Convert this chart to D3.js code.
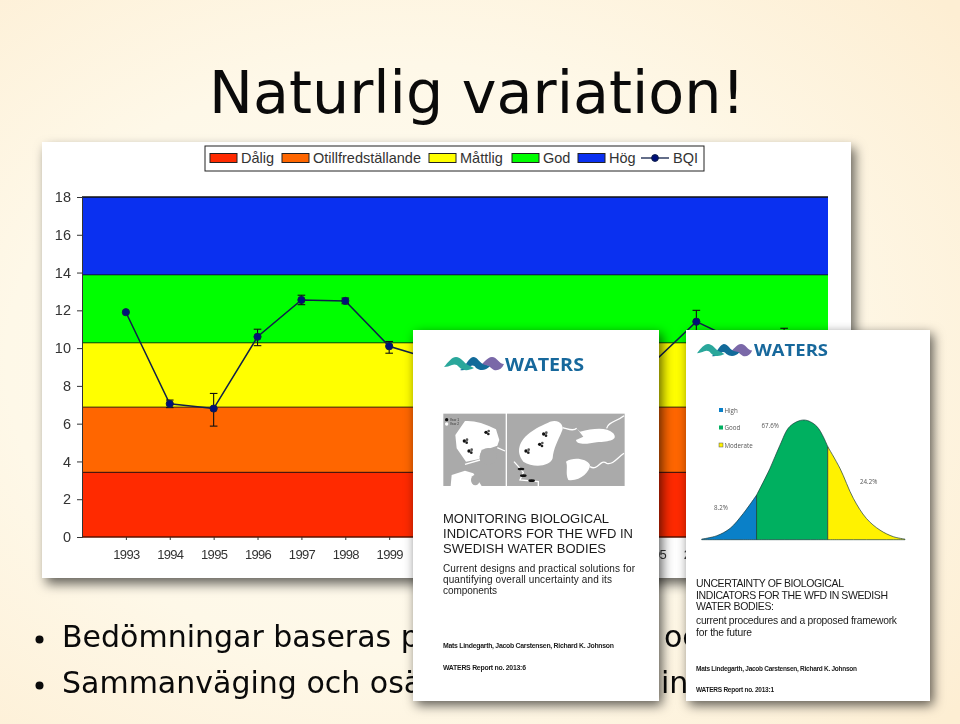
<!DOCTYPE html>
<html><head><meta charset="utf-8">
<script src="https://cdn.jsdelivr.net/npm/d3@7"></script>
<style>html,body{margin:0;padding:0;background:#fdf6e6}svg{display:block;filter:blur(0.35px)}</style>
</head><body><div id="c"></div>
<script>
// ---- chart data ----
const years=[1993,1994,1995,1996,1997,1998,1999,2000,2001,2002,2003,2004,2005,2006,2007,2008];
const bqi=[11.9,7.05,6.8,10.6,12.55,12.5,10.1,9.4,9.2,9.3,9.0,9.1,9.2,11.4,10.3,10.6];
const bqiLow=[11.9,6.85,5.87,10.13,12.3,12.35,9.73,9.2,9.0,9.1,8.8,8.9,9.0,10.9,10.0,10.2];
const bqiHigh=[11.9,7.25,7.6,11.0,12.8,12.65,10.35,9.6,9.4,9.5,9.2,9.3,9.4,12.0,10.6,11.05];
const bandNames=["Dålig","Otillfredställande","Måttlig","God","Hög"];
const bandTops=[3.45,6.9,10.3,13.9,18];
const bandColors=["#ff2a00","#ff6600","#ffff00","#00ff00","#0a30f0"];
const yTicks=[0,2,4,6,8,10,12,14,16,18];
const xTicks=years.concat([2009]);
// ---- cover curve data (share along the curve, relative height) ----
const curveX=[0,7.4,14,20.5,27,33.6,38.5,43.4,50.3,56.6,62,68,74.6,81,87.7,94.3,100];
const curveY=[0.5,3.3,9.5,22,37.3,59.6,79,94.7,100,94.7,77.7,59.6,34.5,17.8,8,2.5,0.5];
const classNames=["High","Good","Moderate"];
const classColors=["#0a80c8","#00b060","#fff200"];
const classSlices=[[0,5],[4,11],[10,17]];
const classShares=["8.2%","67.6%","24.2%"];

const W=960,H=724;
const svg=d3.select("#c").append("svg").attr("width",W).attr("height",H);
const defs=svg.append("defs");
const rg=defs.append("radialGradient").attr("id","bg").attr("cx","42%").attr("cy","50%").attr("r","75%");
rg.append("stop").attr("offset","0%").attr("stop-color","#fefbf0");
rg.append("stop").attr("offset","55%").attr("stop-color","#fef8e8");
rg.append("stop").attr("offset","100%").attr("stop-color","#fdeed3");
const shadow=(id,dx,dy,s,o)=>defs.append("filter").attr("id",id).attr("x","-10%").attr("y","-10%").attr("width","125%").attr("height","125%")
  .append("feDropShadow").attr("dx",dx).attr("dy",dy).attr("stdDeviation",s).attr("flood-color","#000").attr("flood-opacity",o);
shadow("sh",4,6,6,0.6);
shadow("sh2",3,4,6,0.65);
svg.append("rect").attr("width",W).attr("height",H).attr("fill","url(#bg)");

const sans="'Liberation Sans',Arial,sans-serif", ver="'DejaVu Sans',Verdana,sans-serif";

// title
svg.append("text").attr("x",209).attr("y",113).attr("font-family",ver).attr("font-size",59).attr("fill","#0a0a0a").attr("textLength",536).attr("lengthAdjust","spacingAndGlyphs").text("Naturlig variation!");

// bullets
const bullets=[{y:647,a:"Bedömningar baseras på",bx:"och",bxx:664},{y:693,a:"Sammanväging och osäkerhet",bx:"in",bxx:661}];
bullets.forEach(b=>{
  svg.append("circle").attr("cx",39.5).attr("cy",b.y-7.5).attr("r",4).attr("fill","#0a0a0a");
  const t=svg.append("text").attr("x",62).attr("y",b.y).attr("font-family",ver).attr("font-size",30).attr("fill","#0a0a0a");
  t.append("tspan").text(b.a);
  t.append("tspan").attr("x",b.bxx).text(b.bx);
});

// chart card
svg.append("rect").attr("x",42).attr("y",142).attr("width",809).attr("height",436).attr("fill","#fff").attr("filter","url(#sh)");

const x=d3.scaleLinear().domain([1992,2009]).range([82,828]);
const y=d3.scaleLinear().domain([0,18]).range([537,197]);
const chart=svg.append("g");
bandTops.forEach((t,i)=>{
  const b=i?bandTops[i-1]:0;
  chart.append("rect").attr("x",x(1992)).attr("width",x(2009)-x(1992)).attr("y",y(t)).attr("height",y(b)-y(t)).attr("fill",bandColors[i]);
  chart.append("line").attr("x1",x(1992)).attr("x2",x(2009)).attr("y1",y(t)).attr("y2",y(t)).attr("stroke","#111").attr("stroke-width",1.7);
});
chart.append("line").attr("x1",x(1992)).attr("x2",x(2009)).attr("y1",y(0)).attr("y2",y(0)).attr("stroke","#5a1200").attr("stroke-width",1.4);

const ya=chart.append("g").attr("transform",`translate(${x(1992)},0)`).call(d3.axisLeft(y).tickValues(yTicks).tickSize(5).tickPadding(6).tickFormat(d3.format("d")));
ya.selectAll("text").attr("font-family",sans).attr("font-size",14.5).attr("fill","#333");
ya.selectAll("line,path").attr("stroke","#333");
const xa=chart.append("g").attr("transform",`translate(0,${y(0)})`).call(d3.axisBottom(x).tickValues(xTicks).tickSize(3).tickPadding(10).tickFormat(d=>d===2009?"":d3.format("d")(d)));
xa.selectAll("text").attr("font-family",sans).attr("font-size",13).attr("letter-spacing","-0.7").attr("fill","#333");
xa.selectAll("line").attr("stroke","#333");
xa.select("path").remove();

// BQI series
const line=d3.line().x((d,i)=>x(years[i])).y(d=>y(d));
chart.append("path").attr("d",line(bqi)).attr("fill","none").attr("stroke","#10204a").attr("stroke-width",1.5);
years.forEach((yr,i)=>{
  if(bqiHigh[i]===bqiLow[i])return;
  const e=chart.append("g").attr("stroke","#111").attr("stroke-width",1.1);
  e.append("line").attr("x1",x(yr)).attr("x2",x(yr)).attr("y1",y(bqiLow[i])).attr("y2",y(bqiHigh[i]));
  [bqiLow[i],bqiHigh[i]].forEach(v=>e.append("line").attr("x1",x(yr)-3.8).attr("x2",x(yr)+3.8).attr("y1",y(v)).attr("y2",y(v)));
});
chart.selectAll("circle.p").data(bqi).join("circle").attr("class","p").attr("cx",(d,i)=>x(years[i])).attr("cy",d=>y(d)).attr("r",3.6).attr("fill","#00107a").attr("stroke","#10204a").attr("stroke-width",1);

// legend
const leg=svg.append("g");
leg.append("rect").attr("x",205).attr("y",146).attr("width",499).attr("height",25).attr("fill","#fff").attr("stroke","#222").attr("stroke-width",1);
const swatchX=d3.scaleOrdinal().domain(bandNames).range([210,282,429,512,578]);
bandNames.forEach((n,i)=>{
  leg.append("rect").attr("x",swatchX(n)).attr("y",153.5).attr("width",27).attr("height",9).attr("fill",bandColors[i]).attr("stroke","#222").attr("stroke-width",1);
  leg.append("text").attr("x",swatchX(n)+31).attr("y",163).attr("font-family",sans).attr("font-size",14.5).attr("fill","#333").text(n);
});
leg.append("line").attr("x1",641).attr("x2",669).attr("y1",158).attr("y2",158).attr("stroke","#10204a").attr("stroke-width",1.3);
leg.append("circle").attr("cx",655).attr("cy",158).attr("r",3.4).attr("fill","#00107a").attr("stroke","#10204a");
leg.append("text").attr("x",673).attr("y",163).attr("font-family",sans).attr("font-size",14.5).attr("fill","#333").text("BQI");

// WATERS logo
function logo(g,tx,ty,s,txt){
  const l=g.append("g").attr("transform",`translate(${tx},${ty}) scale(${s})`);
  l.append("path").attr("d","M34,11 C39,7 43,0 48,0 C53,0 55,7 60,7 C58,12 54,14 50,13 C46,11 45,8 43,9 C41,10 38,12 34,11Z").attr("fill","#7a68a8");
  l.append("path").attr("d","M16,13 C21,11 24,1 29,0 C34,0 36,7 41,8 L46,9 C42,14 36,14 32,11 C30,8 28,8 26,10 C23,12 20,14 16,13Z").attr("fill","#126a9a");
  l.append("path").attr("d","M0,10 C4,5 8,0 12,0 C17,0 20,6 24,8 L30,11 C24,14 19,14 15,10 C13,7 10,7 8,8 C5,9 3,10 0,10Z").attr("fill","#2aa79b");
  g.append("text").attr("x",txt[0]).attr("y",txt[1]).attr("font-family","'Open Sans',sans-serif").attr("font-weight",700).attr("font-size",txt[2]).attr("fill","#17689c").attr("textLength",txt[3]).attr("lengthAdjust","spacingAndGlyphs").text("WATERS");
}
function textLines(g,lines,fx,fam){
  lines.forEach(l=>g.append("text").attr("x",fx).attr("y",l[1]).attr("font-family",fam).attr("font-size",l[2]).attr("font-weight",l[3]||400).attr("fill","#1a1a1a").attr("textLength",l[4]).attr("lengthAdjust","spacing").text(l[0]));
}

// cover 1
const c1=svg.append("g");
c1.append("rect").attr("x",413).attr("y",330).attr("width",246).attr("height",371).attr("fill","#fff").attr("filter","url(#sh2)");
logo(c1,444,357,1,[505,370.5,17,79]);
const m=c1.append("g").attr("transform","translate(410,325) scale(0.3333)");
m.append("rect").attr("x",100).attr("y",266).attr("width",187).attr("height",217).attr("fill","#aaaaaa");
m.append("rect").attr("x",291).attr("y",266).attr("width",353).attr("height",217).attr("fill","#aaaaaa");
const white=["M136,330 L165,288 Q205,285 258,313 L268,345 L262,362 L240,370 L215,374 L208,402 L168,410 L140,370 Z",
"M122,483 L125,450 L165,437 L190,445 L215,483 Z",
"M330,360 C345,320 400,300 420,290 C450,280 465,305 455,320 C445,345 430,370 428,400 C420,425 370,430 340,410 C325,390 325,375 330,360Z",
"M500,310 L510,320 C550,310 590,305 610,325 C625,345 600,350 560,352 C530,358 500,360 498,345 L520,335 Z",
"M468,410 C490,395 530,400 540,420 C540,440 510,470 475,465 C465,445 475,425 468,410Z"];
white.forEach(d=>m.append("path").attr("d",d).attr("fill","#fff"));
["M458,308 C475,312 490,320 500,310","M590,310 C595,290 620,290 642,272","M540,425 C565,440 570,400 590,415 C610,420 620,400 642,385","M312,410 L330,430 L340,442 L330,465 L385,470 L385,483","M262,368 L285,378","M165,418 L210,405"].forEach(d=>m.append("path").attr("d",d).attr("fill","none").attr("stroke","#fff").attr("stroke-width",4));
m.append("ellipse").attr("cx",235).attr("cy",394).attr("rx",26).attr("ry",25).attr("fill","#aaaaaa");
m.append("ellipse").attr("cx",196).attr("cy",465).attr("rx",13).attr("ry",16).attr("fill","#aaaaaa");
[[167,348],[232,322],[181,378],[405,327],[393,358],[352,378]].forEach(p=>{
  m.append("circle").attr("cx",p[0]-4).attr("cy",p[1]).attr("r",5).attr("fill","#111");
  m.append("circle").attr("cx",p[0]+4).attr("cy",p[1]-4).attr("r",4).attr("fill","#555");
  m.append("circle").attr("cx",p[0]+3).attr("cy",p[1]+5).attr("r",4).attr("fill","#222");
});
[[333,432],[340,452],[365,467]].forEach(p=>m.append("ellipse").attr("cx",p[0]).attr("cy",p[1]).attr("rx",10).attr("ry",4).attr("fill","#111"));
m.append("circle").attr("cx",110).attr("cy",284).attr("r",5).attr("fill","#111");
m.append("circle").attr("cx",110).attr("cy",297).attr("r",5).attr("fill","#fff");
m.append("text").attr("x",119).attr("y",288).attr("font-family",sans).attr("font-size",10).attr("fill","#333").text("Year 1");
m.append("text").attr("x",119).attr("y",301).attr("font-family",sans).attr("font-size",10).attr("fill","#333").text("Year 2");
textLines(c1,[
 ["MONITORING BIOLOGICAL",523,13,400,166],
 ["INDICATORS FOR THE WFD IN",538,13,400,190],
 ["SWEDISH WATER BODIES",553,13,400,163],
 ["Current designs and practical solutions for",572,10,400,192],
 ["quantifying overall uncertainty and its",583,10,400,169],
 ["components",593.5,10,400,54],
 ["Mats Lindegarth, Jacob Carstensen, Richard K. Johnson",648,6.9,700,171],
 ["WATERS Report no. 2013:6",670,6.9,700,83]
],443,sans);

// cover 2
const c2=svg.append("g");
c2.append("rect").attr("x",686).attr("y",330).attr("width",244).attr("height",371).attr("fill","#fff").attr("filter","url(#sh2)");
logo(c2,697,344,0.92,[754,356,16.5,74]);
const cx=d3.scaleLinear().domain([0,100]).range([701.7,905]);
const cy=d3.scaleLinear().domain([0,100]).range([539.7,420]);
const area=d3.area().curve(d3.curveCatmullRom).x(d=>cx(d[0])).y0(cy(0)).y1(d=>cy(d[1]));
const pts=curveX.map((v,i)=>[v,curveY[i]]);
classSlices.forEach((s,i)=>{
  c2.append("path").attr("d",area(pts.slice(s[0],s[1]))).attr("fill",classColors[i]).attr("stroke","#1d3d3d").attr("stroke-width",0.7);
});
const ly=d3.scalePoint().domain(classNames).range([410,445]);
classNames.forEach((n,i)=>{
  c2.append("rect").attr("x",719).attr("y",ly(n)-2).attr("width",4).attr("height",4).attr("fill",classColors[i]).attr("stroke",i==2?"#555":"none").attr("stroke-width",0.5);
  c2.append("text").attr("x",724.5).attr("y",ly(n)+2.5).attr("font-family","'Open Sans',sans-serif").attr("font-size",6.2).attr("fill","#555").text(n);
});
[[714,510,0],[761.5,427.5,1],[860,484,2]].forEach(p=>c2.append("text").attr("x",p[0]).attr("y",p[1]).attr("font-family","'Open Sans',sans-serif").attr("font-size",6.2).attr("fill","#555").text(classShares[p[2]]));
textLines(c2,[
 ["UNCERTAINTY OF BIOLOGICAL",587,10.5,400,148],
 ["INDICATORS FOR THE WFD IN SWEDISH",598.5,10.5,400,192],
 ["WATER BODIES:",610,10.5,400,78],
 ["current procedures and a proposed framework",624,10.3,400,201],
 ["for the future",635.5,10.3,400,56],
 ["Mats Lindegarth, Jacob Carstensen, Richard K. Johnson",671,6.5,700,161],
 ["WATERS Report no. 2013:1",692,6.5,700,78]
],696,sans);
</script></body></html>
